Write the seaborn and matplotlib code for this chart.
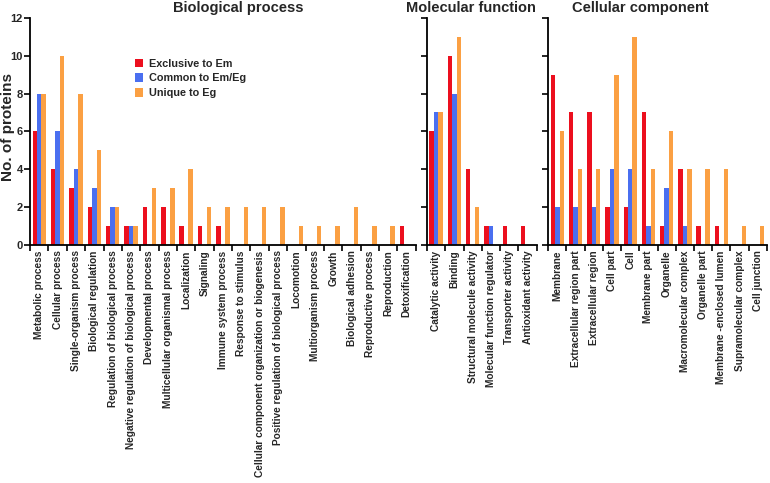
import numpy as np
import pandas as pd
import matplotlib
matplotlib.use("Agg")
import matplotlib.pyplot as plt
import seaborn as sns
from matplotlib.patches import Patch

# Categories per ontology
bp_terms = [
    "Metabolic process", "Cellular process", "Single-organism process",
    "Biological regulation", "Regulation of biological process",
    "Negative regulation of biological process", "Developmental process",
    "Multicellular organismal process", "Localization", "Signaling",
    "Immune system process", "Response to stimulus",
    "Cellular component organization or biogenesis",
    "Positive regulation of biological process", "Locomotion",
    "Multiorganism process", "Growth", "Biological adhesion",
    "Reproductive process", "Reproduction", "Detoxification",
]
bp_em = [6, 4, 3, 2, 1, 1, 2, 2, 1, 1, 1, 0, 0, 0, 0, 0, 0, 0, 0, 0, 1]
bp_common = [8, 6, 4, 3, 2, 1, 0, 0, 0, 0, 0, 0, 0, 0, 0, 0, 0, 0, 0, 0, 0]
bp_eg = [8, 10, 8, 5, 2, 1, 3, 3, 4, 2, 2, 2, 2, 2, 1, 1, 1, 2, 1, 1, 0]

mf_terms = [
    "Catalytic activity", "Binding", "Structural molecule activity",
    "Molecular function regulator", "Transporter activity",
    "Antioxidant activity",
]
mf_em = [6, 10, 4, 1, 1, 1]
mf_common = [7, 8, 0, 1, 0, 0]
mf_eg = [7, 11, 2, 0, 0, 0]

cc_terms = [
    "Membrane", "Extracellular region part", "Extracellular region",
    "Cell part", "Cell", "Membrane part", "Organelle",
    "Macromolecular complex", "Organelle part", "Membrane -enclosed lumen",
    "Supramolecular complex", "Cell junction",
]
cc_em = [9, 7, 7, 2, 2, 7, 1, 4, 1, 1, 0, 0]
cc_common = [2, 2, 2, 4, 4, 1, 3, 1, 0, 0, 0, 0]
cc_eg = [6, 4, 4, 9, 11, 4, 6, 4, 4, 4, 1, 1]

groups = ["Exclusive to Em", "Common to Em/Eg", "Unique to Eg"]
colors = ["#ec0f1e", "#4a6ff0", "#fba043"]
titles = ["Biological process", "Molecular function", "Cellular component"]
title_x = [0.54, 0.40, 0.42]


def long_table(terms, em, common, eg):
    rows = []
    for vals, g in zip([em, common, eg], groups):
        for t, v in zip(terms, vals):
            rows.append({"term": t, "group": g, "n": v})
    return pd.DataFrame(rows)


panels = [
    long_table(bp_terms, bp_em, bp_common, bp_eg),
    long_table(mf_terms, mf_em, mf_common, mf_eg),
    long_table(cc_terms, cc_em, cc_common, cc_eg),
]
term_lists = [bp_terms, mf_terms, cc_terms]

sns.set_theme(style="ticks")
plt.rcParams["font.family"] = ["Liberation Sans", "DejaVu Sans"]

fig = plt.figure(figsize=(7.7, 4.83), dpi=100)
bottom, top = 0.493, 0.963
boxes = [(0.039, 0.540), (0.5545, 0.697), (0.712, 0.996)]

for i, (df, terms) in enumerate(zip(panels, term_lists)):
    l, r = boxes[i]
    ax = fig.add_axes([l, bottom, r - l, top - bottom])
    sns.barplot(
        data=df, x="term", y="n", hue="group", order=terms,
        hue_order=groups, palette=colors, saturation=1, width=0.73,
        linewidth=0, legend=False, ax=ax,
    )
    n = len(terms)
    ax.set_xlim(-0.5, n - 0.5)
    ax.set_ylim(0, 12)
    ax.set_yticks(range(0, 13, 2))
    ax.set_xlabel("")
    ax.set_ylabel("")
    ax.set_xticks(np.arange(n))
    ax.set_xticklabels(terms, rotation=90, fontsize=7.3, fontweight="bold")
    ax.set_xticks(np.arange(n + 1) - 0.5, minor=True)
    ax.tick_params(axis="x", which="major", length=0, pad=4)
    ax.tick_params(axis="x", which="minor", length=4, width=1.2,
                   direction="out", color="black")
    ax.tick_params(axis="y", length=4.5, width=1.2, color="black",
                   labelsize=8, pad=0.5)
    for lab in ax.get_yticklabels():
        lab.set_fontweight("bold")
    if i > 0:
        ax.set_yticklabels([])
    for s in ["left", "bottom"]:
        ax.spines[s].set_linewidth(1.3)
        ax.spines[s].set_color("black")
    sns.despine(ax=ax)
    ax.set_title(titles[i], fontsize=10.5, fontweight="bold", x=title_x[i],
                 y=1.0, pad=4)
    if i == 0:
        ax.set_ylabel("No. of proteins", fontsize=11, fontweight="bold")
        ax.yaxis.set_label_coords(-0.038, 0.52)
        handles = [Patch(facecolor=c, edgecolor="none", label=g)
                   for c, g in zip(colors, groups)]
        ax.legend(handles=handles, loc="upper left",
                  bbox_to_anchor=(0.26, 0.84), frameon=False,
                  prop={"weight": "bold", "size": 7.8},
                  handlelength=0.8, handleheight=0.8, handletextpad=0.5,
                  labelspacing=0.45, borderaxespad=0)

fig.savefig("out.png", dpi=100)
